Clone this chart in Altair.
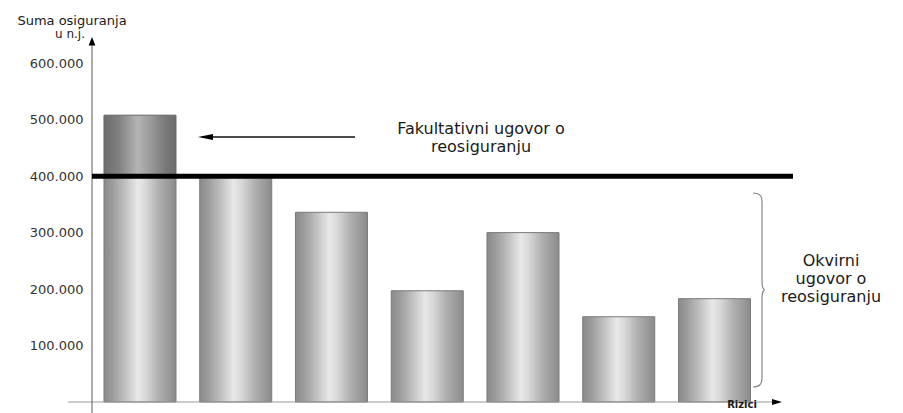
import altair as alt
import pandas as pd

# ---- data ----
rizici = ["R1", "R2", "R3", "R4", "R5", "R6", "R7"]
suma = [508000, 398000, 336000, 197000, 300000, 151000, 183000]
granica = 400000
y_ticks = [100000, 200000, 300000, 400000, 500000, 600000]

df = pd.DataFrame({"rizik": rizici, "suma": suma})
df["okvirni"] = df["suma"].clip(upper=granica)
df["granica"] = granica

FONT = "DejaVu Sans"

y_scale = alt.Scale(domain=[0, 650000], nice=False, zero=True)
x_enc = alt.X("rizik:N", sort=rizici, axis=None,
              scale=alt.Scale(paddingInner=0.248, paddingOuter=0.2846, align=0.22))

light = alt.Gradient(
    gradient="linear", x1=0, x2=1, y1=0, y2=0,
    stops=[
        alt.GradientStop(color="#8a8a8a", offset=0),
        alt.GradientStop(color="#9c9c9c", offset=0.12),
        alt.GradientStop(color="#bdbdbd", offset=0.28),
        alt.GradientStop(color="#e8e8e8", offset=0.47),
        alt.GradientStop(color="#d8d8d8", offset=0.58),
        alt.GradientStop(color="#b0b0b0", offset=0.76),
        alt.GradientStop(color="#9a9a9a", offset=0.9),
        alt.GradientStop(color="#8a8a8a", offset=1),
    ],
)
dark = alt.Gradient(
    gradient="linear", x1=0, x2=1, y1=0, y2=0,
    stops=[
        alt.GradientStop(color="#6c6c6c", offset=0),
        alt.GradientStop(color="#808080", offset=0.2),
        alt.GradientStop(color="#b4b4b4", offset=0.47),
        alt.GradientStop(color="#9a9a9a", offset=0.65),
        alt.GradientStop(color="#7a7a7a", offset=0.85),
        alt.GradientStop(color="#6c6c6c", offset=1),
    ],
)

base = alt.Chart(df)
one = alt.Chart(pd.DataFrame({"g": [granica]}))

bars = base.mark_bar(fill=light, stroke="#7a7a7a", strokeWidth=1).encode(
    x=x_enc,
    y=alt.Y("okvirni:Q", scale=y_scale, title=None,
            axis=alt.Axis(values=y_ticks, domain=False, ticks=False, tickSize=0, grid=False,
                          labelPadding=9, labelFont=FONT, labelFontSize=13,
                          labelColor="#333333",
                          labelExpr="replace(format(datum.value, ','), ',', '.')")),
    y2=alt.datum(0),
)

excess = base.transform_filter(alt.datum.suma > granica).mark_bar(
    fill=dark, stroke="#666666", strokeWidth=1
).encode(
    x=x_enc,
    y=alt.Y("suma:Q", scale=y_scale),
    y2="granica:Q",
)

limit_line = one.mark_rule(color="black", strokeWidth=5).encode(
    y=alt.Y("g:Q", scale=y_scale), x=alt.value(0), x2=alt.value(701)
)

y_axis_line = one.mark_rule(color="#777777", strokeWidth=1.2).encode(
    x=alt.value(0), y=alt.datum(-19500), y2=alt.datum(632000)
)
x_axis_line = one.mark_rule(color="#999999", strokeWidth=1).encode(
    x=alt.value(-24), x2=alt.value(683), y=alt.datum(0)
)
y_arrow = one.mark_point(
    shape="M0,-1L0.8,1L-0.8,1Z", size=72, filled=True, color="black", opacity=1
).encode(x=alt.value(0), y=alt.datum(639000))
x_arrow = one.mark_point(
    shape="M1,0L-1,0.6L-1,-0.6Z", size=100, filled=True, color="black", opacity=1
).encode(x=alt.value(685), y=alt.datum(0))

# annotation arrow
ann_line = one.mark_rule(color="#111111", strokeWidth=1.5).encode(
    x=alt.value(110), x2=alt.value(263), y=alt.value(102)
)
ann_head = one.mark_point(
    shape="M-1,0L1,-0.4L1,0.4Z", size=225, filled=True, color="black", opacity=1
).encode(x=alt.value(113.5), y=alt.value(102))

# brace
brace = one.mark_point(
    shape=("M-0.062,-1C0,-1 0.031,-0.98 0.031,-0.9L0.031,-0.08"
           "C0.031,-0.02 0.05,0 0.062,0C0.05,0 0.031,0.02 0.031,0.08"
           "L0.031,0.9C0.031,0.98 0,1 -0.062,1"),
    size=194 * 194, filled=False, stroke="#888888", strokeWidth=1.2, opacity=1
).encode(x=alt.value(667), y=alt.datum(198400))


def txt(s, x, y, size=16, weight="normal", color="#1a1a1a"):
    return one.mark_text(
        text=s, font=FONT, fontSize=size, fontWeight=weight, color=color,
        align="center", baseline="middle"
    ).encode(x=alt.value(x), y=alt.value(y))


texts = [
    txt("Suma osiguranja", -20, -14, size=13),
    txt("u n.j.", -22, -1, size=12),
    txt("Fakultativni ugovor o", 389, 94),
    txt("reosiguranju", 389, 112),
    txt("Okvirni", 739, 226),
    txt("ugovor o", 739, 244),
    txt("reosiguranju", 739, 262),
    txt("Rizici", 650, 370, size=10, weight="bold"),
]

chart = alt.layer(
    bars, excess, x_axis_line, y_axis_line, limit_line, y_arrow, x_arrow,
    ann_line, ann_head, brace, *texts
).properties(
    width=701, height=367,
    padding={"left": 92, "top": 35, "right": 110, "bottom": 11},
    autosize=alt.AutoSizeParams(type="none"),
    background="white",
).configure_view(stroke=None, strokeWidth=0)

chart.save("out.html", embed_options={"renderer": "svg", "actions": False})
